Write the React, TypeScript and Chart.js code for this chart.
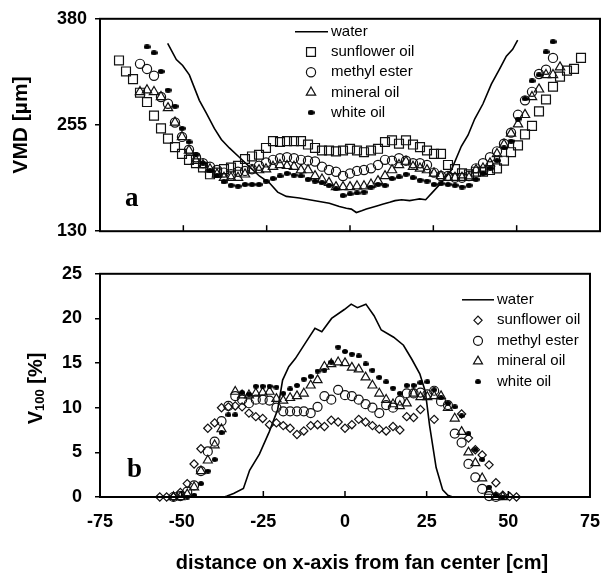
import React, { useEffect, useRef } from 'react';
import { Chart, registerables } from 'chart.js';

Chart.register(...registerables);

const SANS = '"Liberation Sans", Arial, Helvetica, sans-serif';
const SERIF = '"Liberation Serif", "Times New Roman", serif';
const N = null;

// measurement positions along the x-axis (cm)
const positions = [-69.3, -67.2, -65.1, -63, -60.9, -58.8, -56.7, -54.6, -52.5, -50.4, -48.3, -46.2, -44.1, -42, -39.9, -37.8, -35.7, -33.6, -31.5, -29.4, -27.3, -25.2, -23.1, -21, -18.9, -16.8, -14.7, -12.6, -10.5, -8.4, -6.3, -4.2, -2.1, 0, 2.1, 4.2, 6.3, 8.4, 10.5, 12.6, 14.7, 16.8, 18.9, 21, 23.1, 25.2, 27.3, 29.4, 31.5, 33.6, 35.7, 37.8, 39.9, 42, 44.1, 46.2, 48.3, 50.4, 52.5, 54.6, 56.7, 58.8, 60.9, 63, 65.1, 67.2, 69.3];

const seriesLabels = ['water', 'sunflower oil', 'methyl ester', 'mineral oil', 'white oil'];

// ---- panel a: VMD [µm] ----
const vmdTicks = [130, 255, 380];
const vmdSunflower = [331, 318, 309, 293, 282, 266, 251, 239, 229, 221, 214, 210, 205, 197, 199, 203, 205, 207, 215, 218, 220, 228, 236, 235, 236, 236, 236, 232, 228, 225, 225, 224, 225, 227, 225, 223, 225, 227, 235, 237, 233, 237, 232, 229, 225, 221, 221, 208, 203, 198, 197, 200, 200, 202, 204, 213, 223, 231, 244, 254, 271, 285, 300, 312, 319, 321, 334];
const vmdMethyl = [N, N, N,
  327, 321, 313, 288, 280, 258, 241, 226, 217, 210,
  206, 202, 199, 197, 200, 201, 203, 207, 211, 214,
  216, 217, 216, 214, 213, 212, 206, 202, 200, 195,
  198, 201, 202, 204, 208, 214, 213, 216, 213, 210,
  210, 208, 199, 195, 195, 193, 193, 195, 204, 210,
  217, 224, 233, 246, 267, 284, 294, 315, 320, 334,
  N, N, N, N];
const vmdMineral = [N, N, N,
  294, 296, 294, 288, 275, 258, 241, 225, 213, 208,
  203, 197, 193, 193, 193, 197, 202, 202, 203, 206,
  208, 207, 206, 202, 202, 195, 191, 187, 182, 182,
  182, 183, 183, 185, 189, 195, 202, 208, 212, 206,
  204, 202, 198, 195, 193, 193, 193, 193, 202, 204,
  210, 221, 232, 245, 256, 267, 288, 297, 314, 314, 323,
  N, N, N];
const vmdWhite = [N, N, N, N,
  347, 340, 318, 296, 277, 251, 235, 220, 210, 201,
  195, 188, 184, 183, 185, 185, 185, 189, 192, 195,
  198, 196, 195, 191, 189, 187, 184, 180, 172, 174,
  175, 176, 182, 185, 184, 192, 194, 197, 193, 190,
  189, 185, 186, 185, 184, 182, 184, 191, 198, 204,
  213, 228, 236, 262, 286, 307, 314, 341, 353,
  N, N, N, N];
const vmdWaterX = [-54.7, -52.1, -50.2, -48.2, -46.7, -45.2, -43.1, -40.7, -38.6, -36.2, -33.2, -30.2, -27.2, -24.2, -21.7, -19.1, -17, -15.2, -12.2, -9.2, -6.2, -3.2, -1.1, 0.4, 1.9, 3.5, 4.9, 6.5, 8.3, 10, 11.9, 13.5, 15.5, 17.9, 19.4, 20.9, 22.7, 24.8, 27.4, 30.4, 33.4, 35.4, 37.4, 39.9, 42.4, 44.9, 46.9, 48.8, 50.3];
const vmdWaterY = [351, 332, 325, 314, 299, 284, 269, 251, 238, 228, 217, 206, 195, 187, 176, 171, 170, 169, 167, 165, 163, 159, 157, 156, 152, 154, 156, 158, 160, 162, 164, 166, 167, 166, 167, 168, 167, 176, 187, 202, 230, 243, 262, 280, 303, 321, 336, 344, 355];

// ---- panel b: V100 [%] ----
const v100Sunflower = [N, N, N, N, N, N,
  0, 0, 0, 0.5, 1.5, 3.7, 5.4, 7.7, 8.3, 10.0,
  10.1, 10.2, 10.1, 9.4, 9.0, 8.8, 8.1, 8.3, 8.0, 7.7,
  7.0, 7.4, 8.0, 8.1, 7.9, 8.6, 8.4, 7.7, 8.1, 8.7,
  8.4, 8.0, 7.6, 7.4, 7.9, 7.5, 9.0, 8.9, 9.8, N,
  8.7, N, N, N, 9.3, 6.6, 5.3, 4.7, 3.6, 1.6,
  0.2, 0.05, 0,
  N, N, N, N, N, N, N, N];
const v100Methyl = [N, N, N, N, N, N, N, N,
  0, 0.1, 0.6, 1.3, 2.9, 5.1, 6.2, 8.5, 10.2, 11.3,
  10.9, 10.5, 10.9, 10.9, 10.8, 10.0, 9.6, 9.6, 9.6, 9.6,
  9.4, 10.1, 11.3, 10.9, 12.0, 11.4, 11.3, 10.9, 10.4, 10.0,
  9.4, 10.3, 10.0, 10.8, 11.6, 11.6, 11.7, 11.5, 11.9, 10.7,
  10.3, 7.1, 6.1, 3.7, 2.2, 0.9, 0.1, 0,
  N, N, N, N, N, N, N, N, N, N, N];
const v100Mineral = [N, N, N, N, N, N, N, N,
  0, 0, 0.3, 1.1, 2.9, 4.1, 5.8, 7.6, N, 11.8,
  11.4, 11.4, 11.6, 11.7, 11.8, 11.0, 10.8, 11.1, 11.3, 11.6,
  12.5, 13.1, 14.6, 14.9, 15.1, 15.0, 14.5, 14.3, 13.4, 12.5,
  11.6, 10.9, 10.4, 10.2, 10.5, 11.6, 11.2, 11.2, 11.3, 11.3,
  10.0, 8.8, 7.3, 5.0, 3.8, 2.1, 0.6, 0, 0,
  N, N, N, N, N, N, N, N, N, N];
const v100White = [N, N, N, N, N, N, N, N, N, N,
  0, 0.2, 1.5, 2.9, 4.2, 7.2, 9.2, 9.2, 11.7, 11.5,
  12.4, 12.4, 12.4, 12.3, 11.6, 12.1, 12.5, 13.2, 13.5, 14.1,
  14.2, 15.1, 16.8, 16.3, 16.0, 15.8, 14.9, 14.2, 13.4, 12.9,
  12.2, 11.6, 12.5, 12.5, 12.8, 12.9, 12.0, 11.1, 10.5, 10.1,
  9.1, 7.1, 5.3, 4.2, 1.1, 0.2, 0,
  N, N, N, N, N, N, N, N, N, N];
const v100WaterX = [-37, -36.1, -34.1, -31.1, -29.2, -26.2, -23.2, -20.6, -19.1, -17.2, -15.2, -12.2, -9.2, -7.1, -4.1, -0.2, 1.9, 3.8, 6.4, 8.9, 11.1, 14.9, 17.9, 20.5, 22.9, 24.6, 25.9, 27.9, 29.9, 31.5, 33];
const v100WaterY = [0, 0.1, 0.4, 0.95, 3.0, 4.8, 7.3, 9.8, 13.1, 14.6, 15.5, 17.2, 18.9, 18.5, 20.0, 21.0, 21.6, 21.2, 21.6, 20.3, 18.7, 17.9, 17.0, 15.4, 13.8, 11.8, 8.0, 3.3, 0.8, 0.2, 0];

const xTitle = 'distance on x-axis from fan center [cm]';

function onGrid(values: (number | null)[]) {
  const out: { x: number; y: number }[] = [];
  positions.forEach((x, i) => {
    const v = values[i];
    if (v !== null && v !== undefined) out.push({ x, y: v });
  });
  return out;
}
function pairs(xs: number[], ys: number[]) {
  return xs.map((x, i) => ({ x, y: ys[i] }));
}

function makeDash(w: number, h: number) {
  const c = document.createElement('canvas');
  c.width = w;
  c.height = h;
  const g = c.getContext('2d')!;
  g.fillStyle = '#000';
  g.beginPath();
  g.ellipse(w / 2, h / 2, w / 2, h / 2, 0, 0, Math.PI * 2);
  g.fill();
  return c;
}

function drawMark(ctx: CanvasRenderingContext2D, style: any, x: number, y: number, r: number) {
  if (style && typeof style === 'object') {
    ctx.drawImage(style, x - style.width / 2, y - style.height / 2);
    return;
  }
  ctx.beginPath();
  if (style === 'rect') {
    const s = r * Math.SQRT1_2;
    ctx.rect(x - s, y - s, 2 * s, 2 * s);
  } else if (style === 'circle') {
    ctx.arc(x, y, r, 0, Math.PI * 2);
  } else if (style === 'triangle') {
    const w = r * Math.sin((2 * Math.PI) / 3);
    ctx.moveTo(x, y - r);
    ctx.lineTo(x + w, y + r / 2);
    ctx.lineTo(x - w, y + r / 2);
    ctx.closePath();
  } else if (style === 'rectRot') {
    ctx.moveTo(x - r, y);
    ctx.lineTo(x, y - r);
    ctx.lineTo(x + r, y);
    ctx.lineTo(x, y + r);
    ctx.closePath();
  }
  ctx.stroke();
}

const decorPlugin = {
  id: 'decor',
  afterDraw(chart: any, _args: any, opts: any) {
    const { ctx, chartArea: a } = chart;
    const xs = chart.scales.x;
    ctx.save();
    ctx.strokeStyle = '#000';
    // inward ticks on the bottom axis
    ctx.lineWidth = 1.5;
    opts.innerTicks.forEach((v: number) => {
      const px = xs.getPixelForValue(v);
      ctx.beginPath();
      ctx.moveTo(px, a.bottom);
      ctx.lineTo(px, a.bottom - 6);
      ctx.stroke();
    });
    // frame
    ctx.lineWidth = 2;
    ctx.strokeRect(a.left, a.top, a.right - a.left, a.bottom - a.top);
    // panel letter
    ctx.fillStyle = '#000';
    ctx.font = `bold ${opts.letterSize}px ${SERIF}`;
    ctx.textAlign = 'left';
    ctx.textBaseline = 'alphabetic';
    ctx.fillText(opts.letter, a.left + opts.letterDX, a.bottom - opts.letterDY);
    // legend
    const lg = opts.legend;
    ctx.font = `15px ${SANS}`;
    ctx.textBaseline = 'middle';
    chart.data.datasets.forEach((ds: any, i: number) => {
      const y = a.top + lg.dy + i * lg.row;
      ctx.fillStyle = '#000';
      ctx.strokeStyle = ds.borderColor || '#000';
      if (ds.showLine) {
        ctx.lineWidth = 1.5;
        ctx.beginPath();
        ctx.moveTo(a.left + lg.line1, y);
        ctx.lineTo(a.left + lg.line2, y);
        ctx.stroke();
      } else {
        ctx.lineWidth = ds.borderWidth || 1;
        drawMark(ctx, ds.pointStyle, a.left + lg.mark, y, ds.pointRadius);
      }
      ctx.fillStyle = '#000';
      ctx.fillText(ds.label, a.left + lg.text, y);
    });
    // extra titles
    if (opts.xTitle) {
      ctx.font = `bold 20px ${SANS}`;
      ctx.textAlign = 'center';
      ctx.textBaseline = 'middle';
      ctx.fillText(opts.xTitle, a.left + opts.xTitleDX, a.bottom + opts.xTitleDY);
    }
    if (opts.subTitle) {
      const t = opts.subTitle;
      ctx.translate(t.x, (a.top + a.bottom) / 2 + t.dy);
      ctx.rotate(-Math.PI / 2);
      const big = `bold 20px ${SANS}`;
      const small = `bold 13px ${SANS}`;
      ctx.font = big;
      const w1 = ctx.measureText(t.main).width;
      const w3 = ctx.measureText(t.rest).width;
      ctx.font = small;
      const w2 = ctx.measureText(t.sub).width;
      let x = -(w1 + w2 + w3) / 2;
      ctx.textAlign = 'left';
      ctx.textBaseline = 'alphabetic';
      ctx.font = big;
      ctx.fillText(t.main, x, 7);
      x += w1;
      ctx.font = small;
      ctx.fillText(t.sub, x, 9);
      x += w2;
      ctx.font = big;
      ctx.fillText(t.rest, x, 7);
    }
    ctx.restore();
  },
};

const tickFont = { family: SANS, size: 18, weight: 'bold' as const };

export default function App() {
  const topRef = useRef<HTMLCanvasElement>(null);
  const botRef = useRef<HTMLCanvasElement>(null);

  useEffect(() => {
    const dashTop = makeDash(7, 5);
    const dashBot = makeDash(6, 5);
    const mk = (label: string, data: any, style: any, r: number, order: number) => ({
      label,
      data,
      pointStyle: style,
      pointRadius: r,
      borderColor: '#111',
      backgroundColor: 'rgba(0,0,0,0)',
      borderWidth: 1.2,
      order,
      clip: false as any,
    });
    const water = (data: any) => ({
      label: seriesLabels[0],
      data,
      showLine: true,
      borderColor: '#000',
      borderWidth: 1.6,
      pointRadius: 0,
      order: 5,
      clip: false as any,
    });

    const c1 = new Chart(topRef.current!, {
      type: 'scatter',
      data: {
        datasets: [
          water(pairs(vmdWaterX, vmdWaterY)),
          mk(seriesLabels[1], onGrid(vmdSunflower), 'rect', 6.3, 4),
          mk(seriesLabels[2], onGrid(vmdMethyl), 'circle', 4.6, 3),
          mk(seriesLabels[3], onGrid(vmdMineral), 'triangle', 5.4, 2),
          mk(seriesLabels[4], onGrid(vmdWhite), dashTop, 3, 1),
        ] as any,
      },
      options: {
        responsive: false,
        animation: false,
        events: [],
        layout: { padding: { top: 14, right: 14, left: 0, bottom: 0 } },
        plugins: {
          legend: { display: false },
          tooltip: { enabled: false },
          decor: {
            innerTicks: [-50, -25, 0, 25, 50],
            letter: 'a',
            letterSize: 27,
            letterDX: 25,
            letterDY: 25,
            legend: { dy: 13, row: 20.2, line1: 195, line2: 228, mark: 211, text: 231 },
          },
        } as any,
        scales: {
          x: {
            type: 'linear',
            min: -75,
            max: 75,
            ticks: { display: false },
            grid: { display: false, drawTicks: false },
            border: { display: false },
            afterFit: (s: any) => { s.height = 12; },
          },
          y: {
            type: 'linear',
            min: vmdTicks[0],
            max: vmdTicks[vmdTicks.length - 1],
            ticks: { stepSize: vmdTicks[1] - vmdTicks[0], font: tickFont, color: '#000', padding: 8 },
            grid: { display: true, drawOnChartArea: false, drawTicks: true, tickLength: 5, color: '#000', lineWidth: 1.5 },
            border: { display: false },
            title: {
              display: true,
              text: 'VMD [µm]',
              color: '#000',
              font: { family: SANS, size: 21, weight: 'bold' },
              padding: { top: 9, bottom: 0 },
            },
            afterFit: (s: any) => { s.width = 100; },
          },
        },
      },
      plugins: [decorPlugin as any],
    });

    const c2 = new Chart(botRef.current!, {
      type: 'scatter',
      data: {
        datasets: [
          water(pairs(v100WaterX, v100WaterY)),
          mk(seriesLabels[1], onGrid(v100Sunflower), 'rectRot', 4.1, 4),
          mk(seriesLabels[2], onGrid(v100Methyl), 'circle', 4.5, 3),
          mk(seriesLabels[3], onGrid(v100Mineral), 'triangle', 5.2, 2),
          mk(seriesLabels[4], onGrid(v100White), dashBot, 3, 1),
        ] as any,
      },
      options: {
        responsive: false,
        animation: false,
        events: [],
        layout: { padding: { top: 17, right: 14, left: 0, bottom: 0 } },
        plugins: {
          legend: { display: false },
          tooltip: { enabled: false },
          decor: {
            innerTicks: [-50, -25, 0, 25, 50],
            letter: 'b',
            letterSize: 27,
            letterDX: 27,
            letterDY: 20,
            legend: { dy: 26, row: 20.5, line1: 362, line2: 394, mark: 378, text: 397 },
            xTitle,
            xTitleDX: 262,
            xTitleDY: 66,
            subTitle: { main: 'V', sub: '100', rest: ' [%]', x: 35, dy: 3 },
          },
        } as any,
        scales: {
          x: {
            type: 'linear',
            min: -75,
            max: 75,
            ticks: { stepSize: 25, font: tickFont, color: '#000', padding: 14, maxRotation: 0, autoSkip: false },
            grid: { display: false, drawTicks: false },
            border: { display: false },
            afterFit: (s: any) => { s.height = 80; },
          },
          y: {
            type: 'linear',
            min: 0,
            max: 25,
            ticks: { stepSize: 5, font: tickFont, color: '#000', padding: 13 },
            grid: { display: true, drawOnChartArea: false, drawTicks: true, tickLength: 5, color: '#000', lineWidth: 1.5 },
            border: { display: false },
            afterFit: (s: any) => { s.width = 100; },
          },
        },
      },
      plugins: [decorPlugin as any],
    });

    return () => {
      c1.destroy();
      c2.destroy();
    };
  }, []);

  return (
    <div style={{ position: 'absolute', left: 0, top: 0, width: 614, height: 577, background: '#fff' }}>
      <canvas ref={topRef} width={614} height={250} style={{ position: 'absolute', left: 0, top: 0, width: 614, height: 250 }} />
      <canvas ref={botRef} width={614} height={327} style={{ position: 'absolute', left: 0, top: 250, width: 614, height: 327 }} />
    </div>
  );
}
